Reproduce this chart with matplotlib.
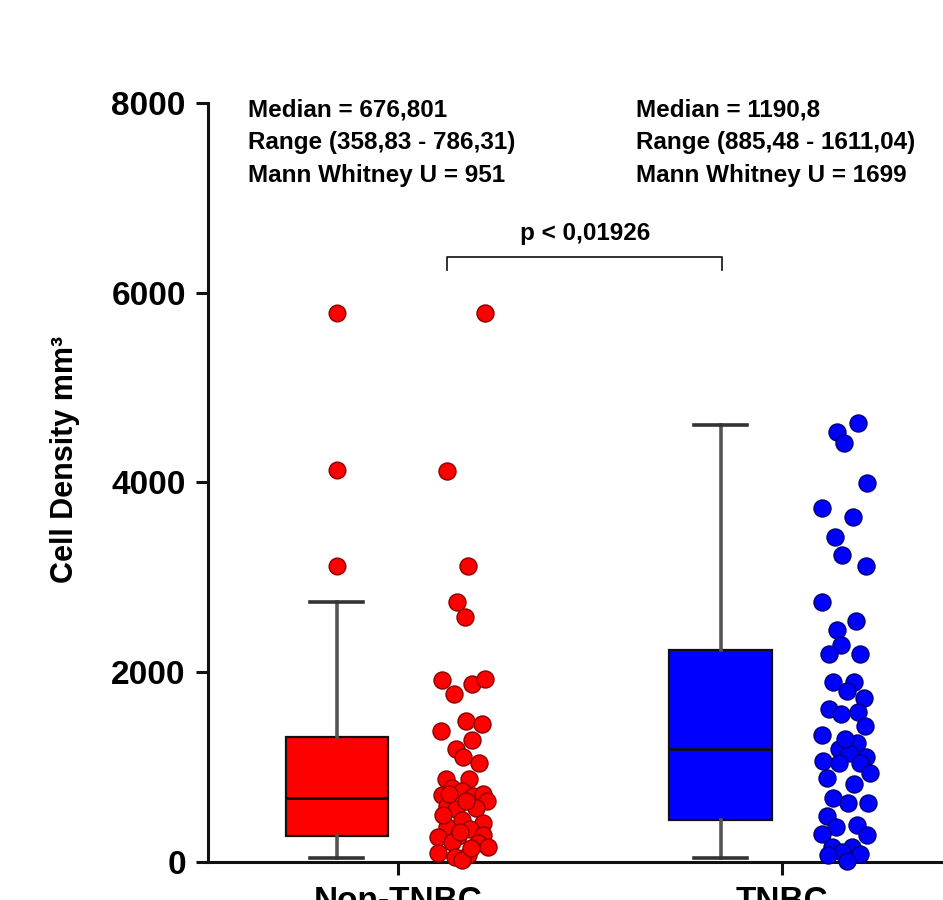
#!/usr/bin/env python

import numpy as np
import matplotlib
matplotlib.use('Agg')
import matplotlib.pyplot as plt

# group labels
groups = ['Non-TNBC', 'TNBC']

# box stats
nontnbc_box = dict(med=674, q1=274, q3=1317, whislo=40, whishi=2740)
nontnbc_fliers = [5786, 4131, 3120]
tnbc_box = dict(med=1191, q1=443, q3=2234, whislo=40, whishi=4605)
tnbc_fliers = []

# individual points (cell density) and their horizontal jitter
nontnbc_vals = [5786, 4121, 3120, 2740, 2582, 1918, 1771, 1876, 1929, 1486,
	1455, 1381, 1286, 1191, 1107, 1043, 875, 875, 780, 748,
	706, 696, 717, 643, 590, 559, 569, 443, 369, 411,
	348, 264, 274, 285, 200, 158, 211, 95, 53, 74,
	20, 500, 640, 720, 320, 150]
nontnbc_jit = [0.227, 0.128, 0.182, 0.154, 0.174, 0.115, 0.146, 0.193, 0.227, 0.177,
	0.219, 0.112, 0.193, 0.151, 0.169, 0.211, 0.125, 0.185, 0.141, 0.167,
	0.115, 0.195, 0.221, 0.232, 0.128, 0.151, 0.203, 0.167, 0.128, 0.221,
	0.188, 0.104, 0.156, 0.221, 0.208, 0.234, 0.141, 0.104, 0.148, 0.182,
	0.167, 0.117, 0.177, 0.133, 0.161, 0.190]

tnbc_vals = [4627, 4532, 4416, 3995, 3731, 3636, 3426, 3236, 3120, 2740,
	2540, 2445, 2287, 2192, 2192, 1897, 1897, 1802, 1729, 1613,
	1560, 1581, 1433, 1339, 1254, 1191, 1149, 1107, 1065, 1043,
	1043, 938, 885, 822, 675, 622, 622, 485, 390, 369,
	295, 285, 158, 158, 105, 84, 74, 10, 1300]
tnbc_jit = [0.198, 0.143, 0.161, 0.221, 0.104, 0.185, 0.138, 0.156, 0.219, 0.104,
	0.193, 0.143, 0.154, 0.122, 0.203, 0.133, 0.188, 0.169, 0.214, 0.122,
	0.154, 0.198, 0.216, 0.104, 0.195, 0.148, 0.174, 0.219, 0.107, 0.148,
	0.203, 0.229, 0.117, 0.188, 0.133, 0.172, 0.224, 0.117, 0.195, 0.141,
	0.104, 0.221, 0.130, 0.182, 0.156, 0.203, 0.120, 0.169, 0.164]

# annotation texts
left_note = 'Median = 676,801\nRange (358,83 - 786,31)\nMann Whitney U = 951'
right_note = 'Median = 1190,8\nRange (885,48 - 1611,04)\nMann Whitney U = 1699'
p_note = 'p < 0,01926'


def draw_group(ax, pos, box, fliers, vals, jit, face, edge):
	'''box on the left of the tick, points on the right'''
	stats = dict(box)
	stats['fliers'] = fliers
	ax.bxp([stats], positions=[pos - 0.16], widths=0.266, capwidths=0.14,
		patch_artist=True, showfliers=True,
		boxprops=dict(facecolor=face, edgecolor='#111111', linewidth=1.6),
		medianprops=dict(color='#111111', linewidth=2),
		whiskerprops=dict(color='#555555', linewidth=2.6),
		capprops=dict(color='#333333', linewidth=2.6),
		flierprops=dict(marker='o', markerfacecolor=face, markeredgecolor=edge,
			markersize=12, markeredgewidth=1))

	# scatter of all points
	ax.scatter(pos + np.array(jit), vals, s=150, color=face,
		edgecolor=edge, linewidth=1, zorder=3, clip_on=False)


def main():
	plt.rcParams['font.family'] = ['Liberation Sans', 'DejaVu Sans']
	plt.rcParams['font.weight'] = 'bold'

	fig = plt.figure(figsize=(9.43, 9.0), dpi=100)
	# axes runs past the right edge, like the cropped original
	ax = fig.add_axes([208 / 943, 38 / 900, 764 / 943, 759 / 900])

	draw_group(ax, 1, nontnbc_box, nontnbc_fliers, nontnbc_vals, nontnbc_jit,
		'#ff0000', '#8b0000')
	draw_group(ax, 2, tnbc_box, tnbc_fliers, tnbc_vals, tnbc_jit,
		'#0000ff', '#00007a')

	# cosmetics
	ax.set_xlim(0.505, 2.495)
	ax.set_ylim(0, 8000)
	ax.set_yticks([0, 2000, 4000, 6000, 8000])
	ax.set_xticks([1, 2])
	ax.set_xticklabels(groups)
	for s in ['top', 'right']:
		ax.spines[s].set_visible(False)
	for s in ['left', 'bottom']:
		ax.spines[s].set_linewidth(2.2)
		ax.spines[s].set_color('#111111')
	ax.tick_params(axis='both', width=2.2, length=9, color='#111111',
		labelsize=24, pad=7)
	ax.tick_params(axis='x', pad=8)
	for lab in ax.get_xticklabels() + ax.get_yticklabels():
		lab.set_fontweight('bold')

	ax.set_ylabel('Cell Density mm³', fontsize=22, fontweight='bold')
	ax.yaxis.set_label_coords(-0.168, 0.53)

	# stats notes
	ax.text(0.609, 8050, left_note, fontsize=17.5, fontweight='bold',
		va='top', ha='left', linespacing=1.55)
	ax.text(1.620, 8050, right_note, fontsize=17.5, fontweight='bold',
		va='top', ha='left', linespacing=1.55)

	# significance bracket
	ax.plot([1.128, 1.128, 1.844, 1.844], [6240, 6377, 6377, 6240],
		color='#222222', linewidth=1.3)
	ax.text(1.487, 6500, p_note, fontsize=17.5, fontweight='bold',
		ha='center', va='bottom')

	fig.savefig('out.png', dpi=100)
	plt.close(fig)


if __name__ == "__main__":
	main()
